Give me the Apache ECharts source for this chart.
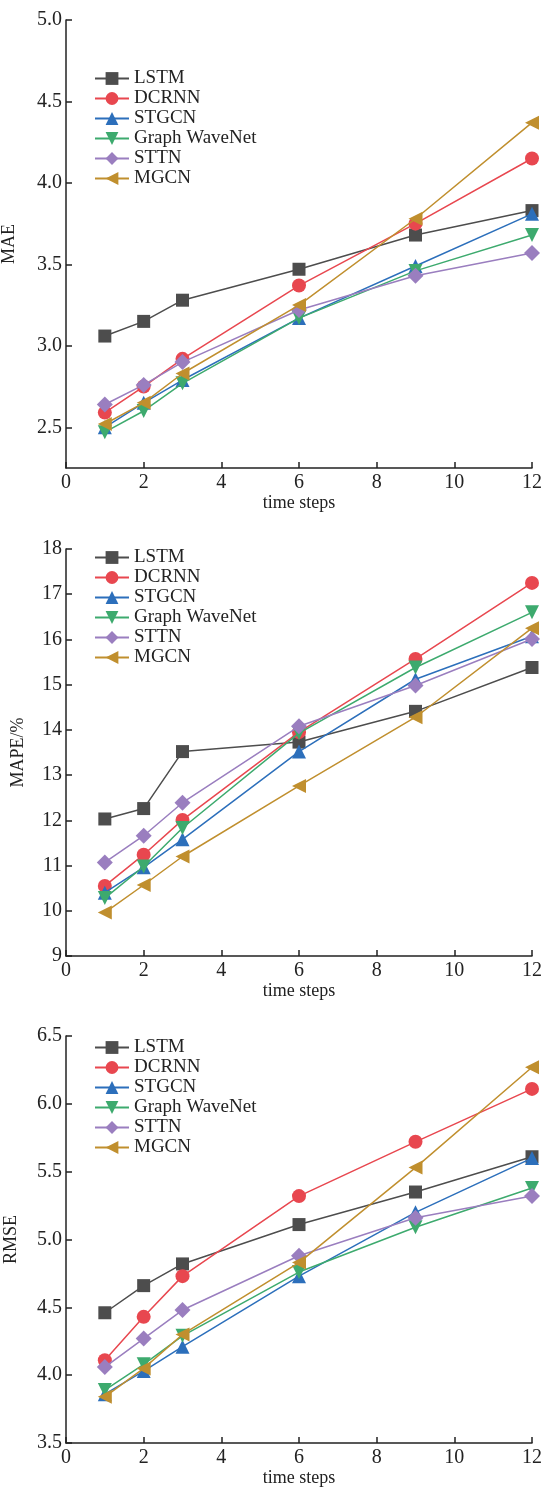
<!DOCTYPE html>
<html>
<head>
<meta charset="utf-8">
<script src="https://cdn.jsdelivr.net/npm/echarts@6/dist/echarts.min.js"></script>
<style>
  html, body { margin: 0; padding: 0; background: #fff; }
  #chart { width: 546px; height: 1488px; }
</style>
</head>
<body>
<div id="chart"></div>
<script>
const steps = [1, 2, 3, 6, 9, 12];
const models = ["LSTM", "DCRNN", "STGCN", "Graph WaveNet", "STTN", "MGCN"];
const colors = ["#4d4d4d", "#e8474f", "#2c6fbb", "#3daa6e", "#9a7ebf", "#c08f2e"];
const symbols = [
  "rect",
  "circle",
  "triangle",
  "path://M0,0 L10,0 L5,9 Z",
  "diamond",
  "path://M0,5 L9,0 L9,10 Z"
];
const symbolSizes = [13, 14, 14, 14, 16, 14];

// MAE
const maeLSTM = [3.06, 3.15, 3.28, 3.47, 3.68, 3.83];
const maeDCRNN = [2.59, 2.75, 2.92, 3.37, 3.75, 4.15];
const maeSTGCN = [2.50, 2.65, 2.79, 3.17, 3.49, 3.81];
const maeGWN = [2.47, 2.60, 2.77, 3.17, 3.46, 3.68];
const maeSTTN = [2.64, 2.76, 2.90, 3.22, 3.43, 3.57];
const maeMGCN = [2.52, 2.65, 2.83, 3.25, 3.78, 4.37];

// MAPE/%
const mapeLSTM = [12.03, 12.26, 13.52, 13.73, 14.41, 15.38];
const mapeDCRNN = [10.55, 11.24, 12.01, 13.95, 15.57, 17.25];
const mapeSTGCN = [10.40, 10.96, 11.58, 13.52, 15.12, 16.07];
const mapeGWN = [10.28, 10.98, 11.83, 13.93, 15.38, 16.60];
const mapeSTTN = [11.07, 11.66, 12.39, 14.08, 14.98, 16.01];
const mapeMGCN = [9.96, 10.57, 11.20, 12.76, 14.28, 16.25];

// RMSE
const rmseLSTM = [4.46, 4.66, 4.82, 5.11, 5.35, 5.61];
const rmseDCRNN = [4.11, 4.43, 4.73, 5.32, 5.72, 6.11];
const rmseSTGCN = [3.86, 4.03, 4.21, 4.73, 5.20, 5.60];
const rmseGWN = [3.89, 4.08, 4.29, 4.76, 5.09, 5.38];
const rmseSTTN = [4.06, 4.27, 4.48, 4.88, 5.16, 5.32];
const rmseMGCN = [3.84, 4.05, 4.30, 4.83, 5.53, 6.27];

const maeTicks = [2.5, 3.0, 3.5, 4.0, 4.5, 5.0];

const panels = [
  { name: "MAE", min: 2.25, max: 5.0, interval: 0.5, digits: 1, nameGap: 48,
    top: 20, height: 448, legendTop: 69,
    data: [maeLSTM, maeDCRNN, maeSTGCN, maeGWN, maeSTTN, maeMGCN] },
  { name: "MAPE/%", min: 9, max: 18, interval: 1, digits: 0, nameGap: 39,
    top: 549, height: 407, legendTop: 548,
    data: [mapeLSTM, mapeDCRNN, mapeSTGCN, mapeGWN, mapeSTTN, mapeMGCN] },
  { name: "RMSE", min: 3.5, max: 6.5, interval: 0.5, digits: 1, nameGap: 46,
    top: 1036, height: 407, legendTop: 1038,
    data: [rmseLSTM, rmseDCRNN, rmseSTGCN, rmseGWN, rmseSTTN, rmseMGCN] }
];

const font = "'Liberation Serif', 'DejaVu Serif', serif";
const axisLine = { show: true, lineStyle: { color: "#222", width: 1.5 } };

const chart = echarts.init(document.getElementById("chart"));

const grid = [], xAxis = [], yAxis = [], legend = [], series = [];
panels.forEach((p, i) => {
  grid.push({ left: 66, right: 14, top: p.top, height: p.height,
    containLabel: false, outerBoundsMode: "none" });
  xAxis.push({
    type: "value", gridIndex: i, min: 0, max: 12, interval: 2,
    name: "time steps", nameLocation: "middle", nameGap: 25,
    nameTextStyle: { fontFamily: font, fontSize: 18, color: "#222" },
    axisLine: axisLine,
    axisTick: { show: true, inside: true, length: 6, lineStyle: { color: "#222", width: 1.5 } },
    axisLabel: { fontFamily: font, fontSize: 20, color: "#222", margin: 5 },
    splitLine: { show: false }
  });
  const y = {
    type: "value", gridIndex: i, min: p.min, max: p.max, interval: p.interval,
    name: p.name, nameLocation: "middle", nameGap: p.nameGap, nameRotate: 90,
    nameTextStyle: { fontFamily: font, fontSize: 18, color: "#222" },
    axisLine: axisLine,
    axisTick: { show: true, inside: true, length: 6, lineStyle: { color: "#222", width: 1.5 } },
    axisLabel: { fontFamily: font, fontSize: 20, color: "#222", margin: 4,
      formatter: v => v.toFixed(p.digits) },
    splitLine: { show: false }
  };
  if (i === 0) {
    y.axisTick.customValues = maeTicks;
    y.axisLabel.customValues = maeTicks;
  }
  yAxis.push(y);
  legend.push({
    orient: "vertical", left: 94, top: p.legendTop, padding: 0,
    itemWidth: 34, itemHeight: 16, itemGap: 1,
    textStyle: { fontFamily: font, fontSize: 19, color: "#222" },
    data: models
  });
  models.forEach((m, k) => {
    series.push({
      name: m, type: "line", xAxisIndex: i, yAxisIndex: i,
      data: steps.map((s, j) => [s, p.data[k][j]]),
      symbol: symbols[k], symbolSize: symbolSizes[k],
      showAllSymbol: true,
      lineStyle: { color: colors[k], width: 1.5 },
      itemStyle: { color: colors[k] },
      emphasis: { disabled: true },
      animation: false, z: 2 + k
    });
  });
});

chart.setOption({
  animation: false,
  grid: grid, xAxis: xAxis, yAxis: yAxis, legend: legend, series: series
});
</script>
</body>
</html>
